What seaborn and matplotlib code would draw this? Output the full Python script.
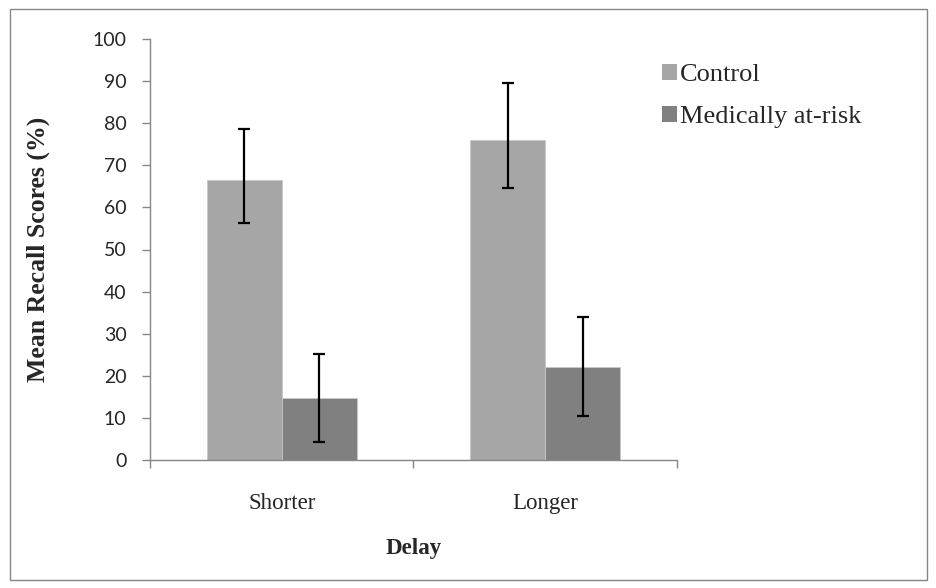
import matplotlib
matplotlib.use("Agg")
import matplotlib.pyplot as plt
import seaborn as sns
import pandas as pd
import numpy as np
from matplotlib.patches import Patch, Rectangle

delays = ["Shorter", "Longer"]
groups = ["Control", "Medically at-risk"]
control_means = [66.6, 76.1]
atrisk_means = [14.7, 22.0]
control_err_low = [10.2, 11.6]
control_err_high = [12.0, 13.4]
atrisk_err_low = [10.4, 11.6]
atrisk_err_high = [10.5, 11.9]

df = pd.DataFrame({
    "Delay": delays * 2,
    "Group": [groups[0]] * 2 + [groups[1]] * 2,
    "Score": control_means + atrisk_means,
})

sns.set_style("white")
plt.rcParams["font.family"] = ["Liberation Serif", "DejaVu Serif"]

colors = {"Control": "#a6a6a6", "Medically at-risk": "#808080"}

fig = plt.figure(figsize=(9.37, 5.88), dpi=100)
ax = fig.add_axes([150 / 937, 1 - 460 / 588, 527 / 937, 421 / 588])

sns.barplot(data=df, x="Delay", y="Score", hue="Group", order=delays,
            hue_order=groups, palette=colors, width=0.57, gap=0,
            edgecolor="#c8c8c8", linewidth=0.6, legend=False, ax=ax,
            errorbar=None, saturation=1)

# error bars on bar centres
lows = [control_err_low, atrisk_err_low]
highs = [control_err_high, atrisk_err_high]
means = [control_means, atrisk_means]
patches = [p for p in ax.patches if isinstance(p, Rectangle)]
for gi in range(2):
    for ci in range(2):
        p = patches[gi * 2 + ci]
        xc = p.get_x() + p.get_width() / 2
        ax.errorbar(xc, means[gi][ci],
                    yerr=[[lows[gi][ci]], [highs[gi][ci]]],
                    fmt="none", ecolor="black", elinewidth=1.6,
                    capsize=4, capthick=1.6)

ax.set_xlim(-0.5, 1.5)
ax.set_ylim(0, 100)
ax.set_yticks(np.arange(0, 101, 10))
ax.set_yticklabels([str(v) for v in range(0, 101, 10)],
                   fontfamily=["Lato", "DejaVu Sans"], fontsize=14)

ax.set_xticks([-0.5, 0.5, 1.5])
ax.set_xticklabels(["", "", ""])
ax.set_xticks([0, 1], minor=True)
ax.set_xticklabels(delays, minor=True, fontsize=16.5)
ax.tick_params(axis="x", which="minor", length=0, pad=24)
ax.tick_params(axis="x", which="major", direction="out", length=6,
               width=1, color="#868686", bottom=True)
ax.tick_params(axis="y", direction="out", length=6, width=1,
               color="#868686", pad=11, left=True)

for s in ["top", "right"]:
    ax.spines[s].set_visible(False)
for s in ["left", "bottom"]:
    ax.spines[s].set_color("#868686")
    ax.spines[s].set_linewidth(1)

ax.set_xlabel("Delay", fontsize=16.5, fontweight="bold")
ax.xaxis.set_label_coords(0.5, -0.185)
ax.set_ylabel("Mean Recall Scores (%)", fontsize=18.5, fontweight="bold")
ax.yaxis.set_label_coords(-0.19, 0.5)

handles = [Patch(facecolor=colors[g], edgecolor="none") for g in groups]
fig.legend(handles, groups, loc="upper left",
           bbox_to_anchor=(651 / 937, 1 - 53 / 588), frameon=False,
           fontsize=19, handlelength=0.58, handleheight=0.58,
           handletextpad=0.12, labelspacing=0.75, borderaxespad=0)

fig.patches.append(Rectangle((10 / 937, 8 / 588), 917 / 937, 571 / 588,
                             transform=fig.transFigure, fill=False,
                             edgecolor="#868686", linewidth=1))

fig.savefig("out.png", dpi=100, facecolor="white")
